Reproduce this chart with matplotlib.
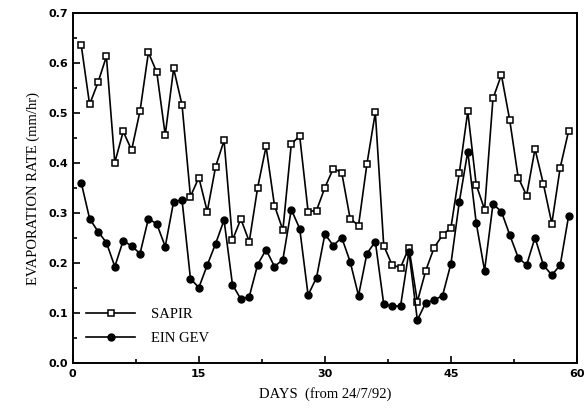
import matplotlib
matplotlib.use("Agg")
import matplotlib.pyplot as plt
from matplotlib.ticker import MultipleLocator, FormatStrFormatter

days = list(range(1, 60))

sapir = [0.636, 0.517, 0.561, 0.613, 0.401, 0.463, 0.426, 0.504, 0.621, 0.581,
         0.456, 0.589, 0.516, 0.333, 0.371, 0.303, 0.393, 0.445, 0.246, 0.288,
         0.243, 0.351, 0.433, 0.315, 0.266, 0.438, 0.454, 0.303, 0.305, 0.351,
         0.389, 0.381, 0.289, 0.275, 0.398, 0.501, 0.235, 0.196, 0.191, 0.231,
         0.123, 0.185, 0.231, 0.256, 0.271, 0.381, 0.503, 0.357, 0.307, 0.529,
         0.576, 0.485, 0.371, 0.335, 0.428, 0.358, 0.279, 0.391, 0.464]

ein_gev = [0.361, 0.289, 0.263, 0.241, 0.193, 0.245, 0.234, 0.219, 0.289, 0.278,
           0.233, 0.323, 0.326, 0.169, 0.151, 0.196, 0.239, 0.286, 0.157, 0.128,
           0.133, 0.197, 0.227, 0.193, 0.207, 0.307, 0.269, 0.136, 0.171, 0.258,
           0.235, 0.251, 0.203, 0.135, 0.219, 0.243, 0.118, 0.114, 0.114, 0.223,
           0.086, 0.121, 0.126, 0.135, 0.199, 0.323, 0.423, 0.281, 0.185, 0.318,
           0.303, 0.256, 0.211, 0.196, 0.251, 0.196, 0.176, 0.196, 0.294]

fig = plt.figure(figsize=(5.87, 4.16), dpi=100)
ax = fig.add_axes([0.124, 0.127, 0.859, 0.842])

ax.plot(days, sapir, color="black", lw=1.2, marker="s", ms=4.8,
        mfc="white", mec="black", mew=1.1, label="SAPIR")
ax.plot(days, ein_gev, color="black", lw=1.2, marker="o", ms=5.0,
        mfc="black", mec="black", label="EIN GEV")

ax.set_xlim(0, 60)
ax.set_ylim(0.0, 0.7)
ax.xaxis.set_major_locator(MultipleLocator(15))
ax.xaxis.set_minor_locator(MultipleLocator(7.5))
ax.yaxis.set_major_locator(MultipleLocator(0.1))
ax.yaxis.set_minor_locator(MultipleLocator(0.05))
ax.yaxis.set_major_formatter(FormatStrFormatter("%.1f"))
ax.tick_params(which="both", direction="in", top=False, right=False,
               labelsize=8, width=1.2)
ax.tick_params(which="major", length=5)
ax.tick_params(which="minor", length=3)
for lab in ax.get_xticklabels() + ax.get_yticklabels():
    lab.set_fontweight("bold")
    lab.set_family("DejaVu Sans")
ax.tick_params(axis="x", pad=4)
for sp in ax.spines.values():
    sp.set_linewidth(1.4)

ax.set_ylabel("EVAPORATION RATE (mm/hr)", family="Liberation Serif",
              fontsize=10.5, labelpad=6)
ax.set_xlabel("DAYS  (from 24/7/92)", family="Liberation Serif",
              fontsize=10.5, labelpad=6)

leg = ax.legend(loc="lower left", bbox_to_anchor=(0.0, 0.015), frameon=False,
                prop={"family": "Liberation Serif", "size": 10.5},
                handlelength=3.4, handletextpad=1.05, labelspacing=0.75)

fig.savefig("out.png", dpi=100)
